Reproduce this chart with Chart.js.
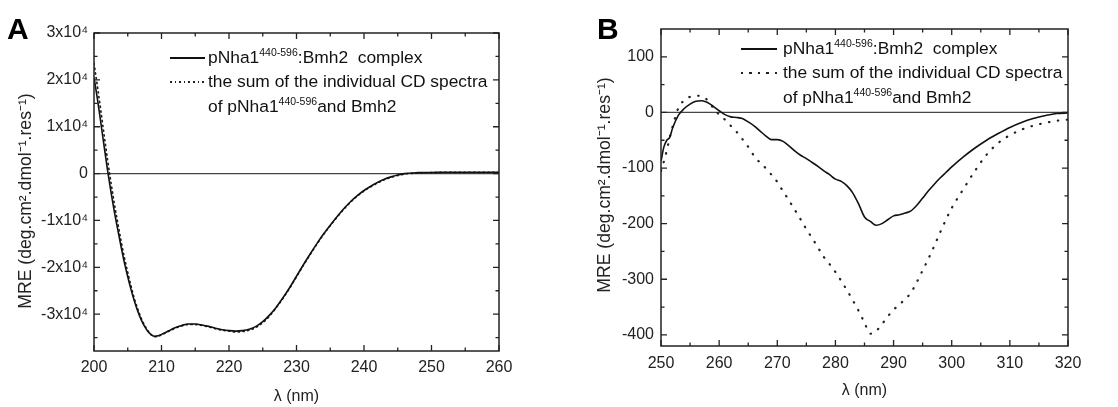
<!DOCTYPE html>
<html>
<head>
<meta charset="utf-8">
<script src="https://cdn.jsdelivr.net/npm/chart.js@4.4.1/dist/chart.umd.min.js"></script>
<style>
  body { margin: 0; background: #fff; width: 1118px; height: 407px; position: relative; overflow: hidden;
         font-family: 'Liberation Sans', Arial, sans-serif; color: #111; }
  .panel { position: absolute; top: 0; height: 407px; }
  .letter { position: absolute; font-weight: bold; font-size: 30px; line-height: 30px; color: #000; }
  .row { position: absolute; font-size: 17.4px; line-height: 20px; white-space: nowrap; color: #111; }
  .row sup { font-size: 10.5px; vertical-align: 0; position: relative; top: -7px; }
  .ytitle { position: absolute; font-size: 17.6px; line-height: 20px; white-space: nowrap; color: #222;
            transform: translate(-50%, -50%) rotate(-90deg); }
  .sample { position: absolute; height: 1.6px; }
  .solid { background: #111; }
  .dotA { background: repeating-linear-gradient(to right, #222 0 1.6px, transparent 1.6px 4.6px); }
  .dotB { background: repeating-linear-gradient(to right, #222 0 2px, transparent 2px 8.5px); height: 2px; }
</style>
</head>
<body>
<div class="panel" style="left:0;width:560px"><canvas id="chartA" width="560" height="407"></canvas></div>
<div class="panel" style="left:560px;width:558px"><canvas id="chartB" width="558" height="407"></canvas></div>

<div class="letter" style="left:7px;top:14px">A</div>
<div class="letter" style="left:597px;top:14px">B</div>

<div class="ytitle" style="left:25px;top:201px">MRE (deg.cm².dmol⁻¹.res⁻¹)</div>
<div class="ytitle" style="left:604px;top:185px">MRE (deg.cm².dmol⁻¹.res⁻¹)</div>

<!-- legend A -->
<div class="sample solid" style="left:170px;top:57px;width:35px"></div>
<div class="row" style="left:208px;top:47px">pNha1<sup>440-596</sup>:Bmh2&nbsp; complex</div>
<div class="sample dotA" style="left:170px;top:81px;width:35px"></div>
<div class="row" style="left:208px;top:71px">the sum of the individual CD spectra</div>
<div class="row" style="left:208px;top:96px">of pNha1<sup>440-596</sup>and Bmh2</div>

<!-- legend B -->
<div class="sample solid" style="left:741px;top:48px;width:36px"></div>
<div class="row" style="left:783px;top:38px">pNha1<sup>440-596</sup>:Bmh2&nbsp; complex</div>
<div class="sample dotB" style="left:741px;top:72px;width:36px"></div>
<div class="row" style="left:783px;top:62px">the sum of the individual CD spectra</div>
<div class="row" style="left:783px;top:87px">of pNha1<sup>440-596</sup>and Bmh2</div>

<script>
// ---- panel A data (far-UV CD) ----
const wavelengthA = [200,200.5,201,201.5,202,202.5,203,203.5,204,204.5,205,205.5,206,206.5,207,207.5,208,208.5,209,209.5,
  210,211,212,213,214,215,216,217,218,219,220,221,222,223,224,225,226,227,228,229,230,231,232,233,234,235,236,237,238,239,
  240,241,242,243,244,245,246,248,250,252,255,258,260];
const complexA = [20500,16000,11000,5800,800,-3800,-8000,-11800,-15500,-19000,-22000,-24800,-27300,-29400,-31200,-32600,-33700,-34400,-34700,-34600,
  -34300,-33600,-32900,-32400,-32100,-32100,-32300,-32600,-33000,-33300,-33500,-33600,-33500,-33200,-32600,-31600,-30200,-28500,-26500,-24300,
  -21900,-19500,-17200,-15000,-12900,-11000,-9200,-7500,-6000,-4700,-3600,-2700,-1900,-1200,-700,-300,0,200,250,300,300,300,300];
const sumA = [23500,18700,13500,8200,3000,-1800,-6300,-10400,-14300,-17900,-21100,-24100,-26800,-29000,-30900,-32400,-33600,-34400,-34800,-34700,
  -34400,-33700,-33000,-32500,-32200,-32200,-32400,-32700,-33100,-33400,-33600,-33800,-33700,-33400,-32800,-31800,-30400,-28600,-26600,-24400,
  -22000,-19600,-17300,-15100,-13000,-11100,-9300,-7600,-6100,-4800,-3700,-2800,-2000,-1300,-800,-400,-100,100,200,250,250,250,250];
const xTicksA = [200,210,220,230,240,250,260];
const xMinorA = [205,215,225,235,245,255];
const yTicksA = [-30000,-20000,-10000,0,10000,20000,30000];
const yTickLabelsA = ['-3x10⁴','-2x10⁴','-1x10⁴','0','1x10⁴','2x10⁴','3x10⁴'];
const yMinorA = [-35000,-25000,-15000,-5000,5000,15000,25000];

// ---- panel B data (near-UV CD) ----
const wavelengthB = [250,250.5,251,251.5,252,253,254,255,256,257,258,259,260,261,262,263,264,265,266,267,268,269,270,
  271,272,273,274,275,276,277,278,279,280,281,282,283,284,285,286,287,288,289,290,291,292,293,294,295,296,297,298,299,300,
  302,304,306,308,310,312,314,316,318,320];
const complexB = [-88,-62,-50,-45,-28,-5,7,15,20,21,18,11,3,-4,-8,-9,-11,-17,-24,-33,-42,-49,-49,
  -52,-60,-69,-77,-83,-90,-97,-105,-112,-120,-124,-132,-145,-165,-188,-196,-203,-200,-193,-186,-184,-181,-177,-167,-154,-141,-129,-118,-108,-98,
  -80,-64,-50,-38,-27,-18,-11,-6,-2,-1];
const sumB = [-105,-88,-68,-45,-25,8,22,28,30,29,22,8,-4,-13,-24,-35,-48,-62,-78,-90,-100,-112,-125,
  -142,-158,-175,-192,-210,-226,-243,-260,-273,-287,-303,-320,-338,-357,-378,-398,-393,-381,-367,-355,-345,-336,-324,-305,-284,-263,-240,-216,-193,-172,
  -138,-105,-76,-55,-41,-31,-24,-19,-15,-13];
const xTicksB = [250,260,270,280,290,300,310,320];
const xMinorB = [255,265,275,285,295,305,315];
const yTicksB = [-400,-300,-200,-100,0,100];
const yTickLabelsB = ['-400','-300','-200','-100','0','100'];
const yMinorB = [-350,-250,-150,-50,50];

const FONT = "'Liberation Sans', Arial, sans-serif";

// closed frame with inward ticks on all four sides + zero line
const framePlugin = {
  id: 'frame',
  beforeDatasetsDraw(chart, args, opts) {
    const { ctx, chartArea: a, scales: { y } } = chart;
    const y0 = y.getPixelForValue(0);
    ctx.save();
    ctx.strokeStyle = '#444';
    ctx.lineWidth = 1.2;
    ctx.beginPath();
    ctx.moveTo(a.left, y0);
    ctx.lineTo(a.right, y0);
    ctx.stroke();
    ctx.restore();
  },
  afterDraw(chart, args, opts) {
    const { ctx, chartArea: a, scales: { x, y } } = chart;
    ctx.save();
    ctx.strokeStyle = '#222';
    ctx.lineWidth = 1.5;
    ctx.strokeRect(a.left, a.top, a.right - a.left, a.bottom - a.top);
    ctx.lineWidth = 1.3;
    ctx.beginPath();
    const xMarks = (vals, len) => vals.forEach(v => {
      const px = x.getPixelForValue(v);
      ctx.moveTo(px, a.bottom); ctx.lineTo(px, a.bottom - len);
      ctx.moveTo(px, a.top); ctx.lineTo(px, a.top + len);
    });
    const yMarks = (vals, len) => vals.forEach(v => {
      const py = y.getPixelForValue(v);
      ctx.moveTo(a.left, py); ctx.lineTo(a.left + len, py);
      ctx.moveTo(a.right, py); ctx.lineTo(a.right - len, py);
    });
    xMarks(opts.xMajor, 6); xMarks(opts.xMinor, 3.5);
    yMarks(opts.yMajor, 6); yMarks(opts.yMinor, 3.5);
    ctx.stroke();
    ctx.restore();
  }
};

function makeChart(id, cfg) {
  const pts = (xs, ys) => xs.map((w, i) => ({ x: w, y: ys[i] }));
  return new Chart(document.getElementById(id), {
    type: 'line',
    data: {
      datasets: [
        { label: 'pNha1 440-596:Bmh2 complex', data: pts(cfg.wl, cfg.complex), borderColor: '#111', borderWidth: 1.6,
          pointRadius: 0, fill: false, cubicInterpolationMode: 'monotone' },
        { label: 'sum of individual CD spectra', data: pts(cfg.wl, cfg.sum), borderColor: '#222', borderWidth: cfg.dotWidth,
          borderDash: cfg.dash, borderCapStyle: 'round', pointRadius: 0, fill: false, cubicInterpolationMode: 'monotone' }
      ]
    },
    options: {
      responsive: false,
      animation: false,
      layout: { padding: cfg.pad },
      plugins: {
        legend: { display: false },
        tooltip: { enabled: false },
        frame: { xMajor: cfg.xTicks, xMinor: cfg.xMinor, yMajor: cfg.yTicks, yMinor: cfg.yMinor }
      },
      scales: {
        x: {
          type: 'linear', min: cfg.xMin, max: cfg.xMax,
          afterBuildTicks: s => { s.ticks = cfg.xTicks.map(v => ({ value: v })); },
          afterFit: s => { s.height = cfg.xHeight; },
          grid: { display: false, drawTicks: false },
          border: { display: false },
          ticks: { autoSkip: false, maxRotation: 0, padding: cfg.xPad, color: '#222', font: { family: FONT, size: 16 } },
          title: { display: true, text: 'λ (nm)', color: '#222', font: { family: FONT, size: 16 }, padding: { top: 0, bottom: cfg.xTitlePad } }
        },
        y: {
          type: 'linear', min: cfg.yMin, max: cfg.yMax,
          afterBuildTicks: s => { s.ticks = cfg.yTicks.map(v => ({ value: v })); },
          afterFit: s => { s.width = cfg.yWidth; },
          grid: { display: false, drawTicks: false },
          border: { display: false },
          ticks: { autoSkip: false, padding: cfg.yPad, color: '#222', font: { family: FONT, size: 16 },
            callback: v => cfg.yLabels[cfg.yTicks.indexOf(v)] },
          title: { display: false }
        }
      }
    },
    plugins: [framePlugin]
  });
}

makeChart('chartA', {
  wl: wavelengthA, complex: complexA, sum: sumA, dash: [1.2, 3.6], dotWidth: 1.7,
  xMin: 200, xMax: 260, yMin: -37850, yMax: 30000,
  xTicks: xTicksA, xMinor: xMinorA, yTicks: yTicksA, yMinor: yMinorA, yLabels: yTickLabelsA,
  pad: { left: 13, right: 61, top: 33, bottom: 0 }, yWidth: 81, xHeight: 56, xPad: 7, yPad: 6, xTitlePad: 1
});

makeChart('chartB', {
  wl: wavelengthB, complex: complexB, sum: sumB, dash: [0.5, 8.5], dotWidth: 2.2,
  xMin: 250, xMax: 320, yMin: -420, yMax: 150,
  xTicks: xTicksB, xMinor: xMinorB, yTicks: yTicksB, yMinor: yMinorB, yLabels: yTickLabelsB,
  pad: { left: 32, right: 50, top: 29, bottom: 0 }, yWidth: 69, xHeight: 61, xPad: 8, yPad: 7, xTitlePad: 7
});
</script>
</body>
</html>
